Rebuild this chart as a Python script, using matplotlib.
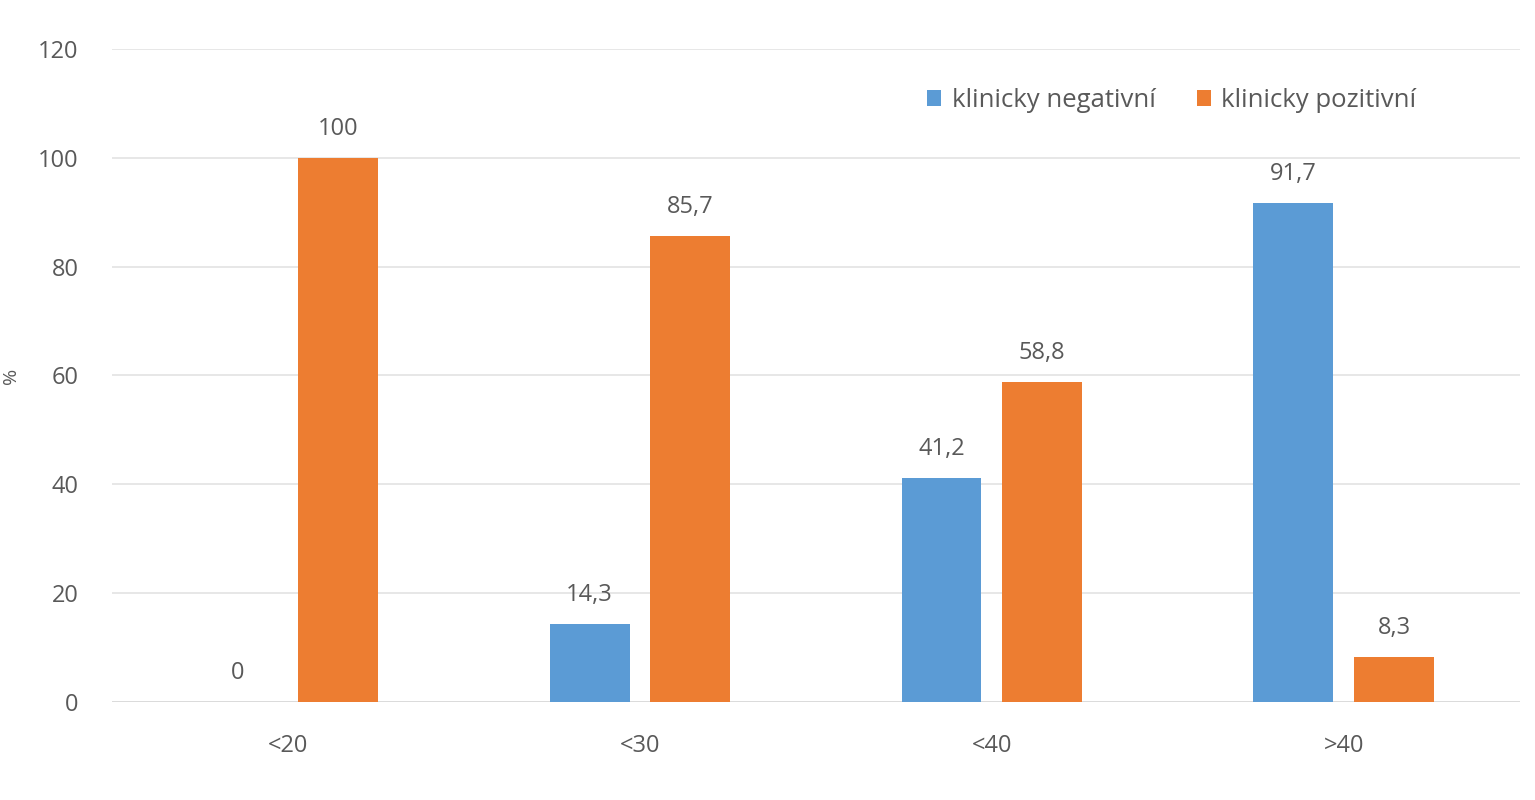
import numpy as np
import matplotlib.pyplot as plt

categories = ["<20", "<30", "<40", ">40"]
negativni = [0, 14.3, 41.2, 91.7]
pozitivni = [100, 85.7, 58.8, 8.3]
labels_neg = ["0", "14,3", "41,2", "91,7"]
labels_poz = ["100", "85,7", "58,8", "8,3"]

plt.rcParams['font.family'] = ['Open Sans', 'DejaVu Sans']
text_col = '#595959'
fs = 17

fig = plt.figure(figsize=(15.35, 8), dpi=100)
ax = fig.add_axes([0.073, 0.1225, 0.917, 0.8165])

x = np.arange(len(categories))
w = 0.227
off = 0.143
b1 = ax.bar(x - off, negativni, w, color='#5B9BD5', label='klinicky negativní', zorder=3)
b2 = ax.bar(x + off, pozitivni, w, color='#ED7D31', label='klinicky pozitivní', zorder=3)

for bars, labs in ((b1, labels_neg), (b2, labels_poz)):
    for b, t in zip(bars, labs):
        ax.annotate(t, (b.get_x() + b.get_width() / 2, b.get_height()),
                    xytext=(0, 12), textcoords='offset points', ha='center', va='bottom',
                    fontsize=fs, color=text_col)

ax.set_xlim(-0.5, 3.5)
ax.set_ylim(0, 120)
ax.set_yticks(range(0, 121, 20))
ax.set_xticks(x)
ax.set_xticklabels(categories)
ax.grid(axis='y', color='#e3e3e3', linewidth=1.2, zorder=0)
ax.tick_params(axis='both', length=0, labelsize=fs, labelcolor=text_col)
ax.tick_params(axis='x', pad=23)
ax.tick_params(axis='y', pad=24)
for s in ax.spines.values():
    s.set_visible(False)
ax.axhline(0, color='#d9d9d9', linewidth=1.2, zorder=2)

fig.text(0.001, 0.53, '%', rotation=90, fontsize=14, color=text_col, va='center', ha='left')

ax.legend(loc='upper right', bbox_to_anchor=(0.943, 0.975), ncol=2, frameon=False,
          fontsize=18.5, labelcolor=text_col, handlelength=0.55, handleheight=0.55,
          handletextpad=0.4, columnspacing=1.6)

fig.savefig('out.png', dpi=100)
